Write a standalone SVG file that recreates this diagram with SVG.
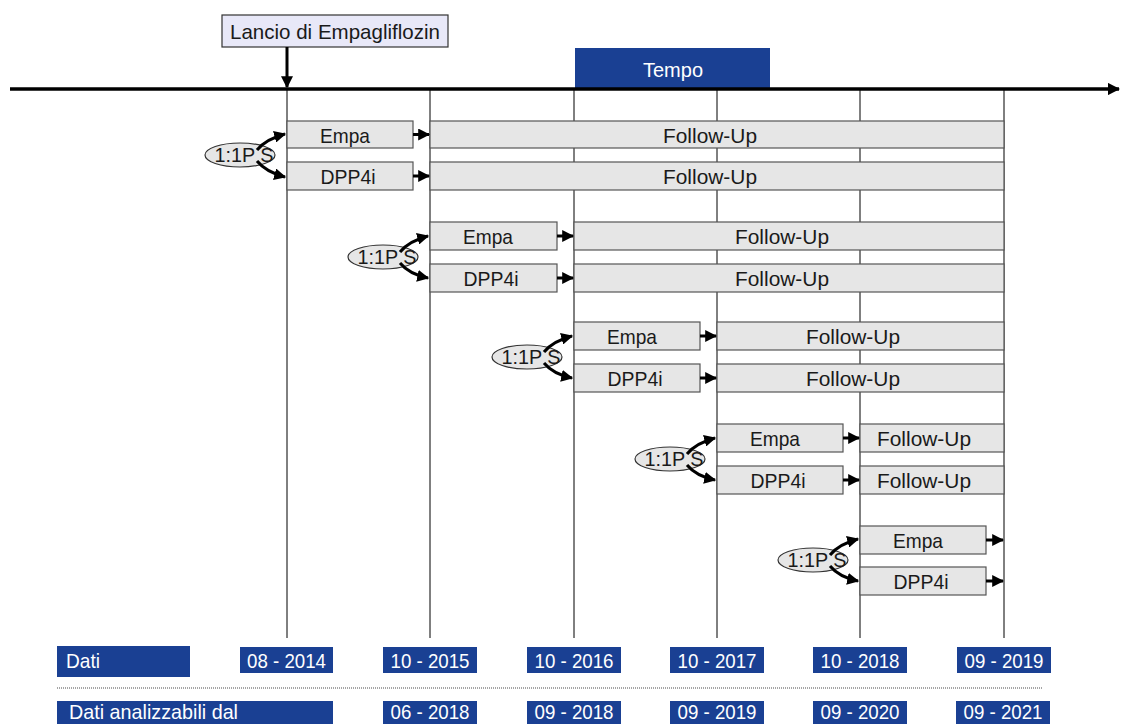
<svg xmlns="http://www.w3.org/2000/svg" width="1121" height="724" viewBox="0 0 1121 724">
<defs>
<marker id="ah" viewBox="0 0 10 10" refX="9" refY="5" markerWidth="4" markerHeight="4" orient="auto" markerUnits="strokeWidth"><path d="M0,0 L10,5 L0,10 z" fill="#000"/></marker>
<marker id="ahs" viewBox="0 0 10 10" refX="9" refY="5" markerWidth="3.5" markerHeight="3.5" orient="auto" markerUnits="strokeWidth"><path d="M0,0 L10,5 L0,10 z" fill="#000"/></marker>
</defs>
<style>
text{font-family:"Liberation Sans",Arial,sans-serif;}
.box{fill:#e6e6e6;stroke:#555;stroke-width:1.2;}
.lbl{font-size:21px;fill:#1a1a1a;text-anchor:middle;}
.blue{fill:#1a4093;}
.wt{font-size:21px;fill:#fff;}
.vl{stroke:#000;stroke-width:1;}
.con{stroke:#000;stroke-width:3;fill:none;marker-end:url(#ah);}
.ell{fill:#e6e6e6;stroke:#333;stroke-width:1.2;}
</style>
<rect width="1121" height="724" fill="#fff"/>

<g id="gridlines">
<line class="vl" x1="287" y1="89" x2="287" y2="638"/>
<line class="vl" x1="430" y1="89" x2="430" y2="638"/>
<line class="vl" x1="574" y1="89" x2="574" y2="638"/>
<line class="vl" x1="717" y1="89" x2="717" y2="638"/>
<line class="vl" x1="860" y1="89" x2="860" y2="638"/>
<line class="vl" x1="1004" y1="89" x2="1004" y2="638"/>
</g>

<g id="tempo">
<rect class="blue" x="575" y="48" width="195" height="40"/>
<text class="wt" x="673" y="77" text-anchor="middle" textLength="60" lengthAdjust="spacingAndGlyphs">Tempo</text>
</g>

<g id="axis">
<line x1="10" y1="89" x2="1119" y2="89" stroke="#000" stroke-width="3.5" marker-end="url(#ahs)"/>
</g>

<g id="launch">
<rect x="222" y="15" width="226" height="32" fill="#e8e8f8" stroke="#333" stroke-width="1.2"/>
<text x="335" y="39" font-size="21" fill="#1a1a1a" text-anchor="middle" textLength="210" lengthAdjust="spacingAndGlyphs">Lancio di Empagliflozin</text>
</g>

<g id="cohort1">
<rect class="box" x="287" y="121" width="126" height="27"/>
<text class="lbl" x="345" y="143" textLength="50" lengthAdjust="spacingAndGlyphs">Empa</text>
<rect class="box" x="430" y="121" width="574" height="27"/>
<text class="lbl" x="710" y="143" textLength="94" lengthAdjust="spacingAndGlyphs">Follow-Up</text>
<rect class="box" x="287" y="162" width="126" height="28"/>
<text class="lbl" x="348" y="184" textLength="55" lengthAdjust="spacingAndGlyphs">DPP4i</text>
<rect class="box" x="430" y="162" width="574" height="28"/>
<text class="lbl" x="710" y="184" textLength="94" lengthAdjust="spacingAndGlyphs">Follow-Up</text>
<ellipse class="ell" cx="240" cy="155" rx="35" ry="12"/>
<text class="lbl" x="244" y="162" textLength="59" lengthAdjust="spacingAndGlyphs">1:1P S</text>
</g>

<g id="cohort2">
<rect class="box" x="430" y="222" width="127" height="28"/>
<text class="lbl" x="488" y="244" textLength="50" lengthAdjust="spacingAndGlyphs">Empa</text>
<rect class="box" x="574" y="222" width="430" height="28"/>
<text class="lbl" x="782" y="244" textLength="94" lengthAdjust="spacingAndGlyphs">Follow-Up</text>
<rect class="box" x="430" y="264" width="127" height="28"/>
<text class="lbl" x="491" y="286" textLength="55" lengthAdjust="spacingAndGlyphs">DPP4i</text>
<rect class="box" x="574" y="264" width="430" height="28"/>
<text class="lbl" x="782" y="286" textLength="94" lengthAdjust="spacingAndGlyphs">Follow-Up</text>
<ellipse class="ell" cx="383" cy="257" rx="35" ry="12"/>
<text class="lbl" x="387" y="264" textLength="59" lengthAdjust="spacingAndGlyphs">1:1P S</text>
</g>

<g id="cohort3">
<rect class="box" x="574" y="322" width="126" height="28"/>
<text class="lbl" x="632" y="344" textLength="50" lengthAdjust="spacingAndGlyphs">Empa</text>
<rect class="box" x="717" y="322" width="287" height="28"/>
<text class="lbl" x="853" y="344" textLength="94" lengthAdjust="spacingAndGlyphs">Follow-Up</text>
<rect class="box" x="574" y="364" width="126" height="28"/>
<text class="lbl" x="635" y="386" textLength="55" lengthAdjust="spacingAndGlyphs">DPP4i</text>
<rect class="box" x="717" y="364" width="287" height="28"/>
<text class="lbl" x="853" y="386" textLength="94" lengthAdjust="spacingAndGlyphs">Follow-Up</text>
<ellipse class="ell" cx="527" cy="357" rx="35" ry="12"/>
<text class="lbl" x="531" y="364" textLength="59" lengthAdjust="spacingAndGlyphs">1:1P S</text>
</g>

<g id="cohort4">
<rect class="box" x="717" y="424" width="126" height="28"/>
<text class="lbl" x="775" y="446" textLength="50" lengthAdjust="spacingAndGlyphs">Empa</text>
<rect class="box" x="860" y="424" width="144" height="28"/>
<text class="lbl" x="924" y="446" textLength="94" lengthAdjust="spacingAndGlyphs">Follow-Up</text>
<rect class="box" x="717" y="466" width="126" height="28"/>
<text class="lbl" x="778" y="488" textLength="55" lengthAdjust="spacingAndGlyphs">DPP4i</text>
<rect class="box" x="860" y="466" width="144" height="28"/>
<text class="lbl" x="924" y="488" textLength="94" lengthAdjust="spacingAndGlyphs">Follow-Up</text>
<ellipse class="ell" cx="670" cy="459" rx="35" ry="12"/>
<text class="lbl" x="674" y="466" textLength="59" lengthAdjust="spacingAndGlyphs">1:1P S</text>
</g>

<g id="cohort5">
<rect class="box" x="860" y="526" width="126" height="28"/>
<text class="lbl" x="918" y="548" textLength="50" lengthAdjust="spacingAndGlyphs">Empa</text>
<rect class="box" x="860" y="567" width="126" height="28"/>
<text class="lbl" x="921" y="589" textLength="55" lengthAdjust="spacingAndGlyphs">DPP4i</text>
<ellipse class="ell" cx="813" cy="560" rx="35" ry="12"/>
<text class="lbl" x="817" y="567" textLength="59" lengthAdjust="spacingAndGlyphs">1:1P S</text>
</g>

<g id="connectors">
<line x1="287" y1="47" x2="287" y2="87" stroke="#000" stroke-width="3" marker-end="url(#ah)"/>
<path class="con" d="M257,150 Q266,139 285,134"/>
<path class="con" d="M257,161 Q266,172 285,177"/>
<line class="con" x1="413" y1="134.5" x2="429" y2="134.5"/>
<line class="con" x1="413" y1="176" x2="429" y2="176"/>
<path class="con" d="M400,252 Q409,241 428,236"/>
<path class="con" d="M400,263 Q409,274 428,278"/>
<line class="con" x1="557" y1="236" x2="573" y2="236"/>
<line class="con" x1="557" y1="278" x2="573" y2="278"/>
<path class="con" d="M544,352 Q553,341 572,336"/>
<path class="con" d="M544,363 Q553,374 572,378"/>
<line class="con" x1="700" y1="336" x2="716" y2="336"/>
<line class="con" x1="700" y1="378" x2="716" y2="378"/>
<path class="con" d="M687,454 Q696,443 715,438"/>
<path class="con" d="M687,465 Q696,476 715,480"/>
<line class="con" x1="843" y1="438" x2="859" y2="438"/>
<line class="con" x1="843" y1="480" x2="859" y2="480"/>
<path class="con" d="M830,555 Q839,544 858,539"/>
<path class="con" d="M830,566 Q839,577 858,581"/>
<line class="con" x1="986" y1="540" x2="1003" y2="540"/>
<line class="con" x1="986" y1="581" x2="1003" y2="581"/>
</g>

<g id="dati-row">
<rect class="blue" x="57" y="646" width="133" height="31"/>
<text class="wt" x="66" y="668" textLength="34" lengthAdjust="spacingAndGlyphs">Dati</text>
<rect class="blue" x="240" y="647" width="93" height="26"/>
<text class="wt" x="286.5" y="668" text-anchor="middle" textLength="79" lengthAdjust="spacingAndGlyphs">08 - 2014</text>
<rect class="blue" x="383" y="647" width="94" height="26"/>
<text class="wt" x="430" y="668" text-anchor="middle" textLength="79" lengthAdjust="spacingAndGlyphs">10 - 2015</text>
<rect class="blue" x="527" y="647" width="94" height="26"/>
<text class="wt" x="574" y="668" text-anchor="middle" textLength="79" lengthAdjust="spacingAndGlyphs">10 - 2016</text>
<rect class="blue" x="670" y="647" width="94" height="26"/>
<text class="wt" x="717" y="668" text-anchor="middle" textLength="79" lengthAdjust="spacingAndGlyphs">10 - 2017</text>
<rect class="blue" x="813" y="647" width="94" height="26"/>
<text class="wt" x="860" y="668" text-anchor="middle" textLength="79" lengthAdjust="spacingAndGlyphs">10 - 2018</text>
<rect class="blue" x="957" y="647" width="94" height="26"/>
<text class="wt" x="1004" y="668" text-anchor="middle" textLength="79" lengthAdjust="spacingAndGlyphs">09 - 2019</text>
</g>

<line x1="57" y1="688" x2="1043" y2="688" stroke="#888" stroke-width="1.5" stroke-dasharray="1,1"/>

<g id="analizzabili-row">
<rect class="blue" x="57" y="701" width="276" height="23"/>
<text class="wt" x="69" y="719" font-size="20" textLength="169" lengthAdjust="spacingAndGlyphs">Dati analizzabili dal</text>
<rect class="blue" x="383" y="701" width="94" height="23"/>
<text class="wt" x="430" y="719" font-size="20" text-anchor="middle" textLength="79" lengthAdjust="spacingAndGlyphs">06 - 2018</text>
<rect class="blue" x="527" y="701" width="94" height="23"/>
<text class="wt" x="574" y="719" font-size="20" text-anchor="middle" textLength="79" lengthAdjust="spacingAndGlyphs">09 - 2018</text>
<rect class="blue" x="670" y="701" width="94" height="23"/>
<text class="wt" x="717" y="719" font-size="20" text-anchor="middle" textLength="79" lengthAdjust="spacingAndGlyphs">09 - 2019</text>
<rect class="blue" x="813" y="701" width="94" height="23"/>
<text class="wt" x="860" y="719" font-size="20" text-anchor="middle" textLength="79" lengthAdjust="spacingAndGlyphs">09 - 2020</text>
<rect class="blue" x="956" y="701" width="94" height="23"/>
<text class="wt" x="1003" y="719" font-size="20" text-anchor="middle" textLength="79" lengthAdjust="spacingAndGlyphs">09 - 2021</text>
</g>
</svg>
